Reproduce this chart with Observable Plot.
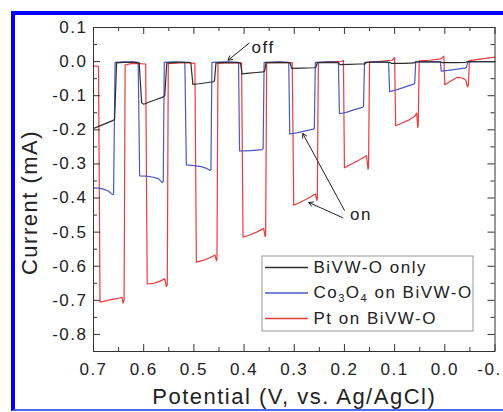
<!DOCTYPE html>
<html><head><meta charset="utf-8">
<script src="https://cdn.jsdelivr.net/npm/d3@7"></script>
<script src="https://cdn.jsdelivr.net/npm/@observablehq/plot@0.6"></script>
<style>
html,body{margin:0;padding:0;background:#fff;overflow:hidden;width:503px;height:412px;}
#wrap{position:relative;width:503px;height:412px;overflow:hidden;}
#border{position:absolute;left:11px;top:11px;width:600px;height:394px;border-top:4px solid #0000f5;border-left:4px solid #0000f5;border-bottom:2px solid #5068ee;pointer-events:none;}
svg text{letter-spacing:1.5px;}
</style></head>
<body><div id="wrap"><div id="chart"></div><div id="border"></div></div>
<script>
// ---------- data (potential V vs Ag/AgCl, current mA) ----------
const seriesNames = ["BiVW-O only", "Co\u2083O\u2084 on BiVW-O", "Pt on BiVW-O"];
const seriesColors = ["#2e2e2e", "#4a5ac4", "#ee3a3a"];

const bivwOnly = [
[0.700,-0.196],[0.690,-0.190],[0.675,-0.181],[0.662,-0.173],[0.658,-0.170],[0.654,-0.004],[0.640,-0.002],[0.620,-0.002],[0.609,-0.004],
[0.604,-0.121],[0.600,-0.125],[0.590,-0.119],[0.575,-0.111],[0.562,-0.104],[0.558,-0.100],[0.554,-0.004],[0.530,-0.002],[0.510,-0.002],
[0.506,-0.004],[0.502,-0.067],[0.490,-0.065],[0.475,-0.062],[0.462,-0.059],[0.459,-0.057],[0.456,-0.004],[0.430,-0.002],[0.410,-0.003],
[0.407,-0.005],[0.404,-0.036],[0.390,-0.034],[0.375,-0.032],[0.362,-0.030],[0.359,-0.028],[0.356,-0.003],[0.330,-0.002],[0.311,-0.003],
[0.308,-0.005],[0.305,-0.020],[0.285,-0.019],[0.260,-0.018],[0.257,-0.017],[0.254,-0.003],[0.230,-0.002],[0.212,-0.003],
[0.209,-0.009],[0.190,-0.008],[0.170,-0.007],[0.159,-0.007],[0.156,-0.002],[0.130,-0.001],[0.110,-0.002],
[0.107,-0.005],[0.080,-0.005],[0.061,-0.004],[0.058,-0.001],[0.030,-0.001],[0.008,-0.001],
[0.005,-0.003],[-0.020,-0.003],[-0.042,-0.002],[-0.045,0.000],[-0.070,0.000],[-0.100,0.000]
];

const co3o4OnBivw = [
[0.700,-0.370],[0.690,-0.371],[0.680,-0.374],[0.670,-0.380],[0.662,-0.390],[0.660,-0.388],[0.657,-0.002],[0.640,-0.001],[0.620,-0.001],[0.611,-0.002],
[0.608,-0.335],[0.595,-0.336],[0.580,-0.339],[0.570,-0.344],[0.563,-0.355],[0.561,-0.352],[0.559,-0.002],[0.540,-0.001],[0.518,-0.002],
[0.515,-0.303],[0.500,-0.305],[0.485,-0.308],[0.475,-0.313],[0.468,-0.319],[0.466,-0.316],[0.464,-0.002],[0.440,-0.001],[0.411,-0.002],
[0.409,-0.262],[0.395,-0.262],[0.380,-0.260],[0.364,-0.258],[0.362,-0.255],[0.360,-0.002],[0.330,-0.001],[0.311,-0.002],
[0.309,-0.212],[0.295,-0.209],[0.280,-0.204],[0.262,-0.198],[0.260,-0.196],[0.258,-0.002],[0.230,-0.001],[0.212,-0.002],
[0.210,-0.153],[0.195,-0.148],[0.180,-0.141],[0.164,-0.134],[0.162,-0.132],[0.160,-0.002],[0.130,-0.001],[0.112,-0.002],
[0.110,-0.088],[0.095,-0.082],[0.080,-0.075],[0.062,-0.066],[0.060,-0.064],[0.058,-0.001],[0.030,0.000],[0.009,-0.001],
[0.007,-0.028],[-0.010,-0.025],[-0.025,-0.022],[-0.040,-0.019],[-0.043,-0.017],[-0.046,-0.001],[-0.070,0.000],[-0.100,0.000]
];

const ptOnBivw = [
[0.700,-0.013],[0.693,-0.013],[0.690,-0.015],[0.687,-0.705],[0.680,-0.703],[0.665,-0.698],[0.650,-0.694],[0.643,-0.691],[0.641,-0.708],[0.639,-0.700],
[0.637,-0.010],[0.625,-0.006],[0.610,-0.006],[0.596,-0.007],
[0.593,-0.652],[0.580,-0.650],[0.570,-0.645],[0.558,-0.637],[0.555,-0.659],[0.553,-0.655],[0.551,-0.006],[0.530,-0.004],[0.510,-0.004],[0.498,-0.005],
[0.495,-0.588],[0.480,-0.582],[0.468,-0.575],[0.458,-0.567],[0.455,-0.584],[0.454,-0.580],[0.452,-0.005],[0.430,-0.003],[0.405,-0.004],
[0.402,-0.515],[0.390,-0.509],[0.375,-0.500],[0.361,-0.489],[0.358,-0.513],[0.357,-0.508],[0.355,-0.004],[0.330,-0.002],[0.304,-0.003],
[0.301,-0.421],[0.290,-0.414],[0.275,-0.403],[0.258,-0.388],[0.255,-0.407],[0.254,-0.402],[0.252,-0.003],[0.230,-0.001],[0.205,0.001],[0.202,0.003],
[0.200,-0.311],[0.190,-0.303],[0.175,-0.292],[0.156,-0.276],[0.153,-0.316],[0.152,-0.310],[0.150,0.000],[0.130,0.001],[0.105,0.004],[0.100,0.012],
[0.098,-0.188],[0.085,-0.180],[0.070,-0.170],[0.060,-0.160],[0.056,-0.151],[0.054,-0.193],[0.053,-0.188],[0.051,0.002],[0.030,0.004],[0.008,0.008],[0.002,0.016],
[0.000,-0.068],[-0.012,-0.057],[-0.025,-0.046],[-0.035,-0.048],[-0.042,-0.055],[-0.045,-0.074],[-0.047,-0.070],[-0.049,0.003],[-0.070,0.007],[-0.100,0.013]
];

// ticks
const xMajorTicks = [0.7,0.6,0.5,0.4,0.3,0.2,0.1,0.0,-0.1];
const xTickLabels = ["0.7","0.6","0.5","0.4","0.3","0.2","0.1","0.0","-0.1"];
const xMinorTicks = [0.65,0.55,0.45,0.35,0.25,0.15,0.05,-0.05];
const yMajorTicks = [0.1,0.0,-0.1,-0.2,-0.3,-0.4,-0.5,-0.6,-0.7,-0.8];
const yTickLabels = ["0.1","0.0","-0.1","-0.2","-0.3","-0.4","-0.5","-0.6","-0.7","-0.8"];
const yMinorTicks = [0.05,-0.05,-0.15,-0.25,-0.35,-0.45,-0.55,-0.65,-0.75];

// annotations
const noteTexts = ["off", "on"];
const noteV = [0.385, 0.189];
const noteI = [0.042, -0.448];
const arrowFromV = [0.390, 0.200, 0.203];
const arrowFromI = [0.054, -0.436, -0.458];
const arrowToV = [0.432, 0.283, 0.271];
const arrowToI = [0.004, -0.211, -0.413];

// ---------- layout ----------
const W = 503, H = 412, mL = 93, mR = 8.5, mT = 27, mB = 61;
const xDomain = [0.7, -0.1], yDomain = [-0.85, 0.1];
const iw = W - mL - mR, ih = H - mT - mB;
const xInv = px => xDomain[0] + (px - mL) / iw * (xDomain[1] - xDomain[0]);
const yInv = py => yDomain[1] - (py - mT) / ih * (yDomain[1] - yDomain[0]);
const majorLen = 7, minorLen = 4;
const axisColor = "#333";

const legendBox = {x1: xInv(262), x2: xInv(473), y1: yInv(256), y2: yInv(331)};
const legendRowY = [267, 292.5, 318].map(yInv);
const legendLineX = [xInv(265), xInv(308)];
const legendTextX = xInv(313);

const seriesData = [bivwOnly, co3o4OnBivw, ptOnBivw];
const lineMarks = [2, 1, 0].map(i => Plot.line(seriesData[i], {x: d => d[0], y: d => d[1], stroke: seriesColors[i], strokeWidth: 1.2}));

const legendMarks = [];
seriesNames.forEach((name, i) => {
  legendMarks.push(Plot.ruleY([legendRowY[i]], {y: d => d, x1: legendLineX[0], x2: legendLineX[1], stroke: seriesColors[i], strokeWidth: 1.5}));
  legendMarks.push(Plot.text([name], {x: legendTextX, y: legendRowY[i], text: d => d, textAnchor: "start", fontSize: 17, fill: "#222"}));
});

const notes = noteTexts.map((t, i) => ({t, v: noteV[i], c: noteI[i]}));
const arrows = arrowFromV.map((v, i) => ({x1: v, y1: arrowFromI[i], x2: arrowToV[i], y2: arrowToI[i]}));

const chart = Plot.plot({
  width: W, height: H,
  marginLeft: mL, marginRight: mR, marginTop: mT, marginBottom: mB,
  style: {fontFamily: "'Liberation Sans', Arial, sans-serif", fontSize: "17px", color: "#222", background: "white"},
  x: {domain: xDomain, ticks: xMajorTicks, tickSize: 0, tickPadding: 11, tickFormat: d => xTickLabels[xMajorTicks.findIndex(t => Math.abs(t - d) < 1e-9)], label: null},
  y: {domain: yDomain, ticks: yMajorTicks, tickSize: 0, tickPadding: 6, tickFormat: d => yTickLabels[yMajorTicks.findIndex(t => Math.abs(t - d) < 1e-9)], label: null},
  marks: [
    ...lineMarks,
    // inward ticks: bottom, top, left, right
    Plot.ruleX(xMajorTicks, {x: d => d, insetTop: ih - majorLen, stroke: axisColor}),
    Plot.ruleX(xMinorTicks, {x: d => d, insetTop: ih - minorLen, stroke: axisColor}),
    Plot.ruleX(xMajorTicks, {x: d => d, insetBottom: ih - majorLen, stroke: axisColor}),
    Plot.ruleX(xMinorTicks, {x: d => d, insetBottom: ih - minorLen, stroke: axisColor}),
    Plot.ruleY(yMajorTicks, {y: d => d, insetRight: iw - majorLen, stroke: axisColor}),
    Plot.ruleY(yMinorTicks, {y: d => d, insetRight: iw - minorLen, stroke: axisColor}),
    Plot.ruleY(yMajorTicks, {y: d => d, insetLeft: iw - majorLen, stroke: axisColor}),
    Plot.ruleY(yMinorTicks, {y: d => d, insetLeft: iw - minorLen, stroke: axisColor}),
    Plot.frame({stroke: axisColor, strokeWidth: 1}),
    // legend
    Plot.rect([legendBox], {x1: "x1", x2: "x2", y1: "y1", y2: "y2", fill: "white", stroke: "#999", strokeWidth: 1}),
    ...legendMarks,
    // annotations
    Plot.arrow(arrows, {x1: "x1", y1: "y1", x2: "x2", y2: "y2", stroke: "#222", strokeWidth: 1, headLength: 7}),
    Plot.text(notes, {x: "v", y: "c", text: "t", textAnchor: "start", fontSize: 17, fill: "#222"}),
    // axis titles
    Plot.text(["Current (mA)"], {frameAnchor: "left", textAnchor: "middle", lineAnchor: "middle", dx: -64, dy: 13, rotate: -90, text: d => d, fontSize: 22, fill: "#222"}),
    Plot.text(["Potential (V, vs. Ag/AgCl)"], {frameAnchor: "bottom", textAnchor: "middle", lineAnchor: "middle", dy: 45, text: d => d, fontSize: 22, fill: "#222"})
  ]
});
document.getElementById("chart").appendChild(chart);

// real subscripts for Co3O4 in the legend
d3.select(chart).selectAll("text").filter(function() { return this.textContent === seriesNames[1]; }).each(function() {
  const t = d3.select(this);
  t.text(null);
  const parts = [["Co", 0], ["3", 1], ["O", 0], ["4", 1], [" on BiVW-O", 0]];
  let shifted = false;
  parts.forEach(([s, sub]) => {
    const ts = t.append("tspan").text(s);
    if (sub) { ts.attr("font-size", "11px").attr("dy", 4); shifted = true; }
    else if (shifted) { ts.attr("dy", -4); shifted = false; }
  });
});
</script>
</body></html>
